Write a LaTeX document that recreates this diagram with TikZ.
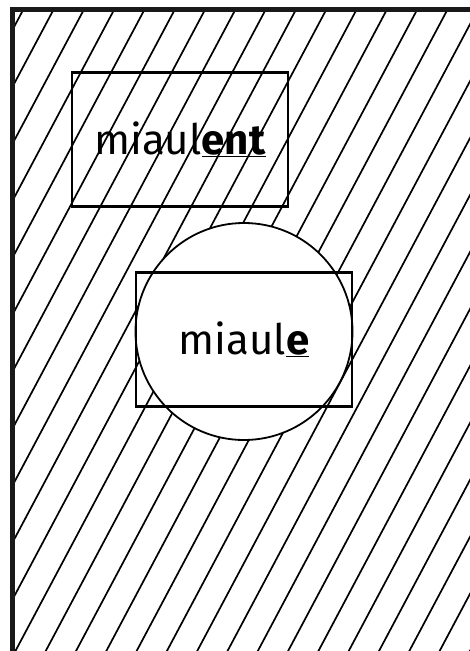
\documentclass[tikz,border=0pt]{standalone}
\usepackage{fontspec}
\setmainfont{Fira Sans}
\tikzset{
  frameline/.style={line width=5pt, draw=black!90},
  hatchline/.style={line width=1.7pt, black},
  wordbox/.style={draw, line width=2.2pt, minimum width=216pt, minimum height=134pt, inner sep=0pt, font=\fontsize{42}{48}\selectfont},
  whitedisc/.style={draw, fill=white, line width=1.8pt}
}
\newcommand{\suffixmark}[1]{\underline{\textbf{#1}}}
\begin{document}
\begin{tikzpicture}[x=1pt,y=-1pt]
\useasboundingbox (0,0) rectangle (470,651);
\begin{scope}
  \clip (0,0) rectangle (470,651);
  \begin{scope}
    \clip (12.5,9.5) rectangle (480,660);
    \foreach \k in {-1,...,27} {
      \pgfmathsetmacro{\xa}{22+30.3*\k}
      \draw[hatchline] (\xa+20,-25.6) -- (\xa-360,688.8);
    }
  \end{scope}
  \draw[frameline] (12.5,9.5) rectangle (490,680);
\end{scope}
\node[wordbox] (plural) at (180,139.5) {miaul\suffixmark{ent}};
\node[whitedisc, circle, minimum size=217pt, inner sep=0pt] (disc) at (244,331.5) {};
\node[wordbox] (singular) at (244,339.5) {miaul\suffixmark{e}};
\end{tikzpicture}
\end{document}
